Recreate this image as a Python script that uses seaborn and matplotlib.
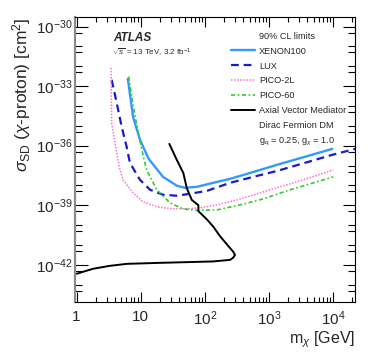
import numpy as np
import matplotlib
matplotlib.use("Agg")
import matplotlib.pyplot as plt
import seaborn as sns
from matplotlib.lines import Line2D
from matplotlib.ticker import FixedLocator, FuncFormatter, NullFormatter

# ------------------------------------------------------------------
# data (mass in GeV, log10 of cross section)
# ------------------------------------------------------------------
xenon_m = [6.3, 7.6, 9.75, 13.0, 14.0, 22.3, 36.9, 49.2, 75.8, 135, 248, 511, 1350, 9770]
xenon_logs = [-32.63, -34.55, -35.70, -36.60, -36.75, -37.57, -38.02, -38.12, -38.07, -37.87, -37.67, -37.37, -36.96, -36.16]

lux_m = [3.52, 4.22, 5.05, 6.04, 6.8, 9.75, 14.0, 22.3, 36.9, 58.9, 109, 248, 656, 1350, 9770, 22400]
lux_logs = [-32.68, -33.84, -35.05, -36.06, -36.87, -37.72, -38.22, -38.47, -38.52, -38.42, -38.27, -37.87, -37.52, -37.27, -36.46, -36.16]

pico2l_m = [3.44, 3.52, 4.22, 4.75, 5.29, 7.58, 10.9, 18.0, 32.0, 52.8, 84.5, 156, 320, 813, 3440, 10100]
pico2l_logs = [-32.08, -34.85, -36.36, -37.21, -37.72, -38.37, -38.83, -39.08, -39.18, -39.18, -39.13, -38.98, -38.73, -38.33, -37.72, -37.22]

pico60_m = [6.49, 7.66, 9.17, 11.0, 12.4, 17.8, 28.7, 45.8, 75.8, 156, 356, 813, 2150, 10100]
pico60_logs = [-32.52, -34.03, -35.35, -36.55, -37.22, -38.22, -38.88, -39.18, -39.26, -39.23, -38.98, -38.68, -38.22, -37.57]

axial_m = [1.0, 1.8, 3.31, 6.11, 20, 58.9, 135, 248, 276, 296, 276, 224, 174, 135, 109, 84.5,
           79.5, 79.5, 62.7, 52.4, 46.3, 36.5, 28.0]
axial_logs = [-42.45, -42.2, -42.05, -41.95, -41.9, -41.86, -41.83, -41.75, -41.65, -41.5, -41.33, -40.99,
              -40.57, -40.07, -39.73, -39.38, -39.3, -39.0, -38.73, -38.14, -37.38, -36.71, -35.91]

x_ticks = [1, 10, 100, 1000, 10000]
x_ticklabels = ["1", "10", r"$10^{2}$", r"$10^{3}$", r"$10^{4}$"]
y_ticks = [1e-42, 1e-39, 1e-36, 1e-33, 1e-30]

sns.set_style("ticks")
plt.rcParams["font.family"] = ["Liberation Sans", "DejaVu Sans"]
plt.rcParams["mathtext.fontset"] = "custom"
plt.rcParams["mathtext.rm"] = "Liberation Sans"
plt.rcParams["mathtext.it"] = "Liberation Sans:italic"
plt.rcParams["mathtext.bf"] = "Liberation Sans:bold"

fig = plt.figure(figsize=(3.74, 3.59), dpi=100)
ax = fig.add_axes([0.201, 0.160, 0.748, 0.792])
ax.set_xscale("log")
ax.set_yscale("log")

series = [
    ("XENON100", xenon_m, xenon_logs, "#3399ff", "-", 1.7),
    ("LUX", lux_m, lux_logs, "#1a1acc", (0, (3.5, 2.2)), 1.6),
    ("PICO-2L", pico2l_m, pico2l_logs, "#ff70c8", (0, (1, 1)), 1.1),
    ("PICO-60", pico60_m, pico60_logs, "#2fcc2f", (0, (2.5, 1.5, 1, 1.5)), 1.2),
    ("Axial Vector Mediator", axial_m, axial_logs, "black", "-", 1.4),
]

handles = [Line2D([], [], color="none", label="90% CL limits")]
for name, m, logs, col, ls, lw in series:
    sns.lineplot(x=m, y=10.0 ** np.array(logs), ax=ax, color=col, linestyle=ls,
                 linewidth=lw, sort=False, estimator=None)
    handles.append(Line2D([], [], color=col, linestyle=ls, linewidth=lw, label=name))
handles.append(Line2D([], [], color="none", label="Dirac Fermion DM"))
handles.append(Line2D([], [], color="none",
                      label=r"g$_{\mathrm{q}}$ = 0.25, g$_{\chi}$ = 1.0"))

ax.set_xlim(0.95, 2.2e4)
ax.set_ylim(10 ** -43.85, 10 ** -29.53)

# ticks
ax.xaxis.set_major_locator(FixedLocator(x_ticks))
ax.xaxis.set_major_formatter(FuncFormatter(lambda v, p: x_ticklabels[x_ticks.index(v)] if v in x_ticks else ""))
xminor = [d * k for d in [1, 10, 100, 1000, 10000] for k in range(2, 10)]
ax.xaxis.set_minor_locator(FixedLocator(xminor))
ax.xaxis.set_minor_formatter(NullFormatter())

ax.yaxis.set_major_locator(FixedLocator(y_ticks))
ax.yaxis.set_major_formatter(FuncFormatter(lambda v, p: r"$10^{%d}$" % round(np.log10(v))))
yminor = [10.0 ** e for e in range(-44, -28) if e % 3 != 0] + [5 * 10.0 ** e for e in range(-44, -29)]
ax.yaxis.set_minor_locator(FixedLocator(yminor))
ax.yaxis.set_minor_formatter(NullFormatter())

ax.tick_params(which="both", direction="in", top=True, right=True, labelsize=11, width=0.8, color="black")
ax.tick_params(axis="x", which="major", length=7, pad=6)
ax.tick_params(axis="x", which="minor", length=3.5)
ax.tick_params(axis="y", which="major", length=9, pad=2)
ax.tick_params(axis="y", which="minor", length=5)

for s in ax.spines.values():
    s.set_linewidth(0.8)
    s.set_color("black")
ax.spines["left"].set_color("#8c8c8c")
ax.spines["left"].set_linewidth(1.6)

ax.set_xlabel(r"m$_{\chi}$ [GeV]", fontsize=11.5, loc="right", labelpad=1)
ax.set_ylabel(r"$\sigma_{\mathrm{SD}}$ ($\chi$-proton) [cm$^{2}$]", fontsize=12.5, loc="top", labelpad=2)

ax.text(0.135, 0.927, "ATLAS", transform=ax.transAxes, fontsize=8.5,
        fontweight="bold", fontstyle="italic", va="center", ha="left")
ax.text(0.132, 0.874, r"$\sqrt{s}$ = 13 TeV, 3.2 fb$^{-1}$", transform=ax.transAxes,
        fontsize=5.8, va="center", ha="left")

ax.legend(handles=handles, loc="upper left", bbox_to_anchor=(0.54, 0.965), frameon=False,
          fontsize=6.6, handlelength=2.6, handletextpad=0.45, labelspacing=0.64, borderpad=0)

fig.savefig("out.png", dpi=100)
